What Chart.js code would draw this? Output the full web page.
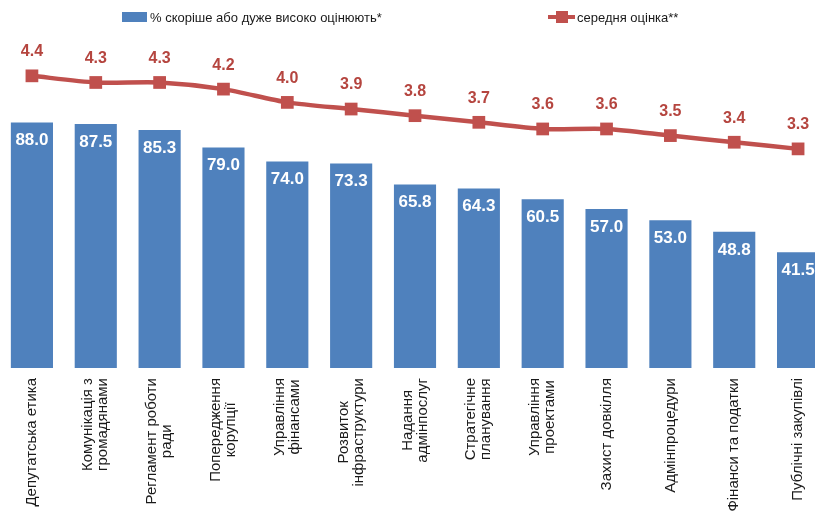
<!DOCTYPE html>
<html>
<head>
<meta charset="utf-8">
<script src="https://cdn.jsdelivr.net/npm/chart.js@4/dist/chart.umd.min.js"></script>
<style>
    body { margin: 0; background: #fff; overflow: hidden; }
    #wrap { position: relative; width: 848px; height: 512px; margin-left: -9px; }
</style>
</head>
<body>
<div id="wrap"><canvas id="chartCanvas"></canvas></div>
<script>

const categories = [
    ['Депутатська етика'],
    ['Комунікація з', 'громадянами'],
    ['Регламент роботи', 'ради'],
    ['Попередження', 'корупції'],
    ['Управління', 'фінансами'],
    ['Розвиток', 'інфраструктури'],
    ['Надання', 'адмінпослуг'],
    ['Стратегічне', 'планування'],
    ['Управління', 'проектами'],
    ['Захист довкілля'],
    ['Адмінпроцедури'],
    ['Фінанси та податки'],
    ['Публічні закупівлі']
];
const shares = [88.0, 87.5, 85.3, 79.0, 74.0, 73.3, 65.8, 64.3, 60.5, 57.0, 53.0, 48.8, 41.5];
const averages = [4.4, 4.3, 4.3, 4.2, 4.0, 3.9, 3.8, 3.7, 3.6, 3.6, 3.5, 3.4, 3.3];

const seriesNames = ['% скоріше або дуже високо оцінюють*', 'середня оцінка**'];

const blue = '#4F81BD';
const red = '#C0504D';
const font = '"Liberation Sans", Arial, sans-serif';

// values on bars and above the markers, vertical category names, legend
let extras = {
    id: 'extras',
    afterDatasetsDraw(chart) {
        let c = chart.ctx;
        c.save();
        c.textAlign = 'center';
        c.textBaseline = 'middle';

        c.font = 'bold 17px ' + font;
        c.fillStyle = '#fff';
        chart.getDatasetMeta(1).data.forEach((bar, i) => {
            c.fillText(shares[i].toFixed(1), bar.x, bar.y + 18);
        });

        c.font = 'bold 16px ' + font;
        c.fillStyle = '#B5453F';
        chart.getDatasetMeta(0).data.forEach((pt, i) => {
            c.fillText(averages[i].toFixed(1), pt.x, pt.y - 24);
        });

        // category names, read bottom to top
        c.font = '15px ' + font;
        c.fillStyle = '#1a1a1a';
        let xs = chart.scales.x;
        let top = chart.chartArea.bottom + 10;
        categories.forEach((lines, i) => {
            let x = xs.getPixelForValue(i);
            let w = Math.max(...lines.map(l => c.measureText(l).width));
            c.save();
            c.translate(x, top);
            c.rotate(-Math.PI / 2);
            lines.forEach((l, k) => {
                c.fillText(l, -w / 2, (k - (lines.length - 1) / 2) * 15);
            });
            c.restore();
        });

        // legend (canvas is shifted 9px left)
        c.textAlign = 'left';
        c.font = '13px ' + font;
        c.fillStyle = blue;
        c.fillRect(131, 12, 25, 10);
        c.fillStyle = '#1a1a1a';
        c.fillText(seriesNames[0], 159, 18);

        c.strokeStyle = red;
        c.lineWidth = 4;
        c.beginPath();
        c.moveTo(557, 17);
        c.lineTo(584, 17);
        c.stroke();
        c.fillStyle = red;
        c.fillRect(565, 11, 12, 12);
        c.fillStyle = '#1a1a1a';
        c.fillText(seriesNames[1], 586, 18);

        c.restore();
    }
};

let ctx = document.querySelector('#chartCanvas');

let graph = new Chart(ctx, {
    data: {
        labels: categories,
        datasets: [{
            type: 'line',
            label: seriesNames[1],
            data: averages,
            yAxisID: 'y2',
            borderColor: red,
            borderWidth: 4.5,
            tension: 0.25,
            pointStyle: 'rect',
            pointRadius: 9,
            pointBackgroundColor: red,
            pointBorderWidth: 0
        }, {
            type: 'bar',
            label: seriesNames[0],
            data: shares,
            yAxisID: 'y',
            backgroundColor: blue,
            barPercentage: 0.66,
            categoryPercentage: 1
        }]
    },
    options: {
        responsive: true,
        maintainAspectRatio: false,
        animation: false,
        layout: {
            padding: { top: 36, bottom: 136, left: 0, right: 0 }
        },
        scales: {
            x: {
                grid: { display: false },
                border: { display: false },
                ticks: { display: false }
            },
            y: { display: false, min: 0, max: 119 },
            y2: { display: false, min: 0, max: 5 }
        },
        plugins: {
            legend: { display: false },
            tooltip: { enabled: false }
        }
    },
    plugins: [extras]
});

</script>
</body>
</html>
